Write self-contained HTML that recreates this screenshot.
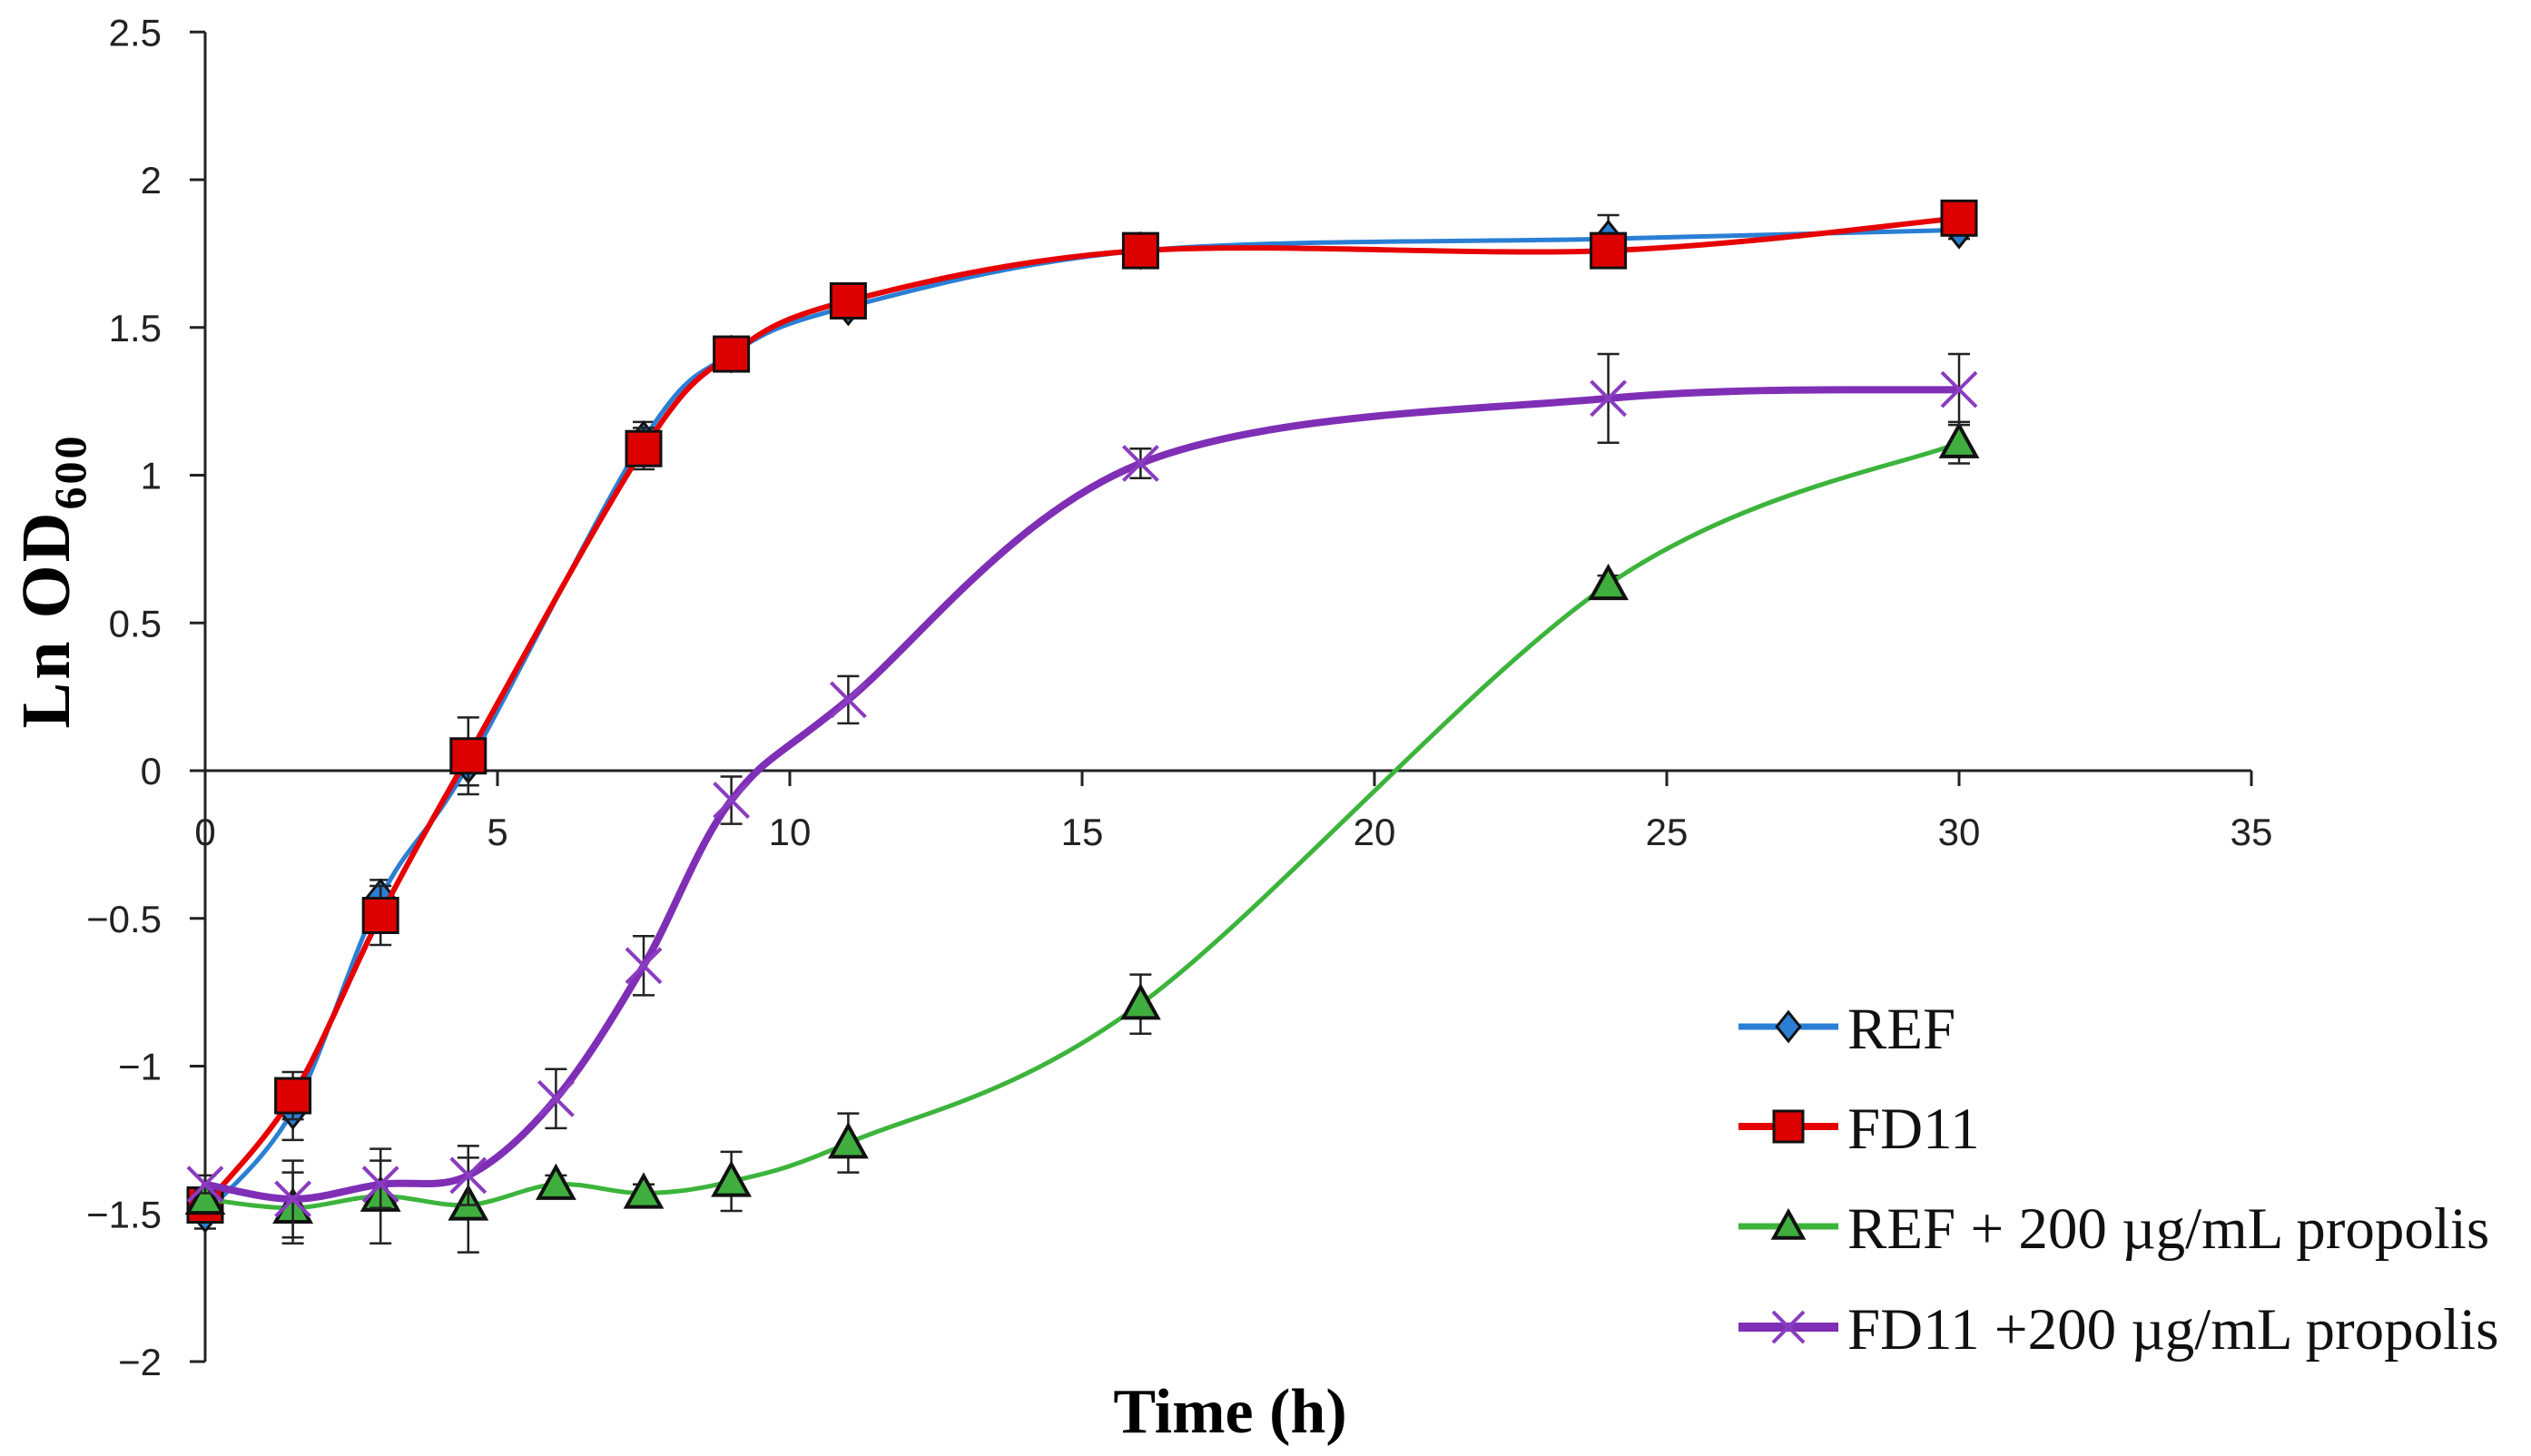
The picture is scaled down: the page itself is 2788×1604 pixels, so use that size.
<!DOCTYPE html>
<html><head><meta charset="utf-8"><style>
html,body{margin:0;padding:0;background:#fff;}
svg{display:block;}
</style></head><body>
<svg id="chart" width="2788" height="1604" viewBox="0 0 2788 1604" xmlns="http://www.w3.org/2000/svg">
<g id="axes"></g>
<g id="series"></g>
<g id="legend"></g>
<text transform="translate(76,640) rotate(-90)" text-anchor="middle" font-family="Liberation Serif, serif" font-weight="bold" font-size="76" letter-spacing="3">Ln OD<tspan font-size="50" dy="18">600</tspan></text>
<text x="1355" y="1578" text-anchor="middle" font-family="Liberation Serif, serif" font-weight="bold" font-size="70">Time (h)</text>
</svg>
<script>
const xTicks=[0,5,10,15,20,25,30,35];
const yTicks=[2.5,2,1.5,1,0.5,0,-0.5,-1,-1.5,-2];
const tMain=[0,1.5,3,4.5,7.5,9,11,16,24,30];
const tLong=[0,1.5,3,4.5,6,7.5,9,11,16,24,30];
const refVals=[-1.5,-1.15,-0.43,0.02,1.12,1.41,1.57,1.76,1.8,1.83];
const refErr=[0.05,0.1,0.06,0.07,0.06,0.03,0.03,0.03,0.08,0.03];
const fdVals=[-1.47,-1.1,-0.49,0.05,1.09,1.41,1.59,1.76,1.76,1.87];
const fdErr=[0.05,0.08,0.1,0.13,0.07,0.03,0.03,0.03,0.03,0.03];
const refPropVals=[-1.45,-1.48,-1.44,-1.47,-1.4,-1.43,-1.39,-1.26,-0.79,0.63,1.11];
const refPropErr=[0.03,0.12,0.16,0.16,0.03,0.03,0.1,0.1,0.1,0.03,0.07];
const fdPropVals=[-1.4,-1.45,-1.4,-1.37,-1.11,-0.66,-0.1,0.24,1.04,1.26,1.29];
const fdPropErr=[0.03,0.13,0.08,0.1,0.1,0.1,0.08,0.08,0.05,0.15,0.12];
const legendLabels=["REF","FD11","REF + 200 µg/mL propolis","FD11 +200 µg/mL propolis"];

const NS="http://www.w3.org/2000/svg";
const X=t=>226+64.4*t;
const Y=v=>849-325.5*v;
function mk(tag,attrs,parent){const e=document.createElementNS(NS,tag);for(const k in attrs)e.setAttribute(k,attrs[k]);parent.appendChild(e);return e;}
const axes=document.getElementById('axes');
const ser=document.getElementById('series');
const leg=document.getElementById('legend');

let a=mk('line',{x1:X(0),y1:Y(2.5),x2:X(0),y2:Y(-2),stroke:'#222','stroke-width':3},axes);


a=mk('line',{x1:X(0),y1:Y(0),x2:X(35),y2:Y(0),stroke:'#222','stroke-width':3},axes);


yTicks.forEach(v=>{
 mk('line',{x1:X(0)-17,y1:Y(v),x2:X(0),y2:Y(v),stroke:'#222','stroke-width':3},axes);
 const t=mk('text',{x:178,y:Y(v)+15,'text-anchor':'end','font-family':'Liberation Sans, sans-serif','font-size':42,fill:'#222'},axes);
 t.textContent=(v<0?'\u2212'+Math.abs(v):String(v));
 
 
});
xTicks.forEach(v=>{
 mk('line',{x1:X(v),y1:Y(0),x2:X(v),y2:Y(0)+17,stroke:'#222','stroke-width':3},axes);
 const t=mk('text',{x:X(v),y:Y(0)+82,'text-anchor':'middle','font-family':'Liberation Sans, sans-serif','font-size':42,fill:'#222'},axes);
 t.textContent=String(v);
 
 
});

function smoothPath(xs,vs){
 const p=xs.map((t,i)=>[X(t),Y(vs[i])]);
 let d='M'+p[0][0]+','+p[0][1];
 for(let i=0;i<p.length-1;i++){
  const p0=p[Math.max(0,i-1)],p1=p[i],p2=p[i+1],p3=p[Math.min(p.length-1,i+2)];
  const k=1/6;
  const c1=[p1[0]+(p2[0]-p0[0])*k,p1[1]+(p2[1]-p0[1])*k];
  const c2=[p2[0]-(p3[0]-p1[0])*k,p2[1]-(p3[1]-p1[1])*k];
  d+=' C'+c1+' '+c2+' '+p2;
 }
 return d;
}
function marker(kind,cx,cy,fill,g,s){
 s=s||19;
 if(kind==='diamond') return mk('path',{d:`M${cx},${cy-s} L${cx+s*0.8},${cy} L${cx},${cy+s} L${cx-s*0.8},${cy} Z`,fill:fill,stroke:'#111','stroke-width':3},g);
 if(kind==='square') return mk('rect',{x:cx-s,y:cy-s,width:2*s,height:2*s,fill:fill,stroke:'#111','stroke-width':3},g);
 if(kind==='triangle') return mk('path',{d:`M${cx},${cy-s} L${cx+s},${cy+s*0.8} L${cx-s},${cy+s*0.8} Z`,fill:fill,stroke:'#111','stroke-width':4},g);
 const gg=mk('g',{},g);
 mk('path',{d:`M${cx-s},${cy-s} L${cx+s},${cy+s} M${cx+s},${cy-s} L${cx-s},${cy+s}`,stroke:fill,'stroke-width':4},gg);
 return gg;
}
const seriesDefs=[
 {name:'ref',xs:tMain,vs:refVals,err:refErr,color:'#2a7fd4',w:5,kind:'diamond',fill:'#2a7fd4'},
 {name:'fd11',xs:tMain,vs:fdVals,err:fdErr,color:'#e60000',w:6,kind:'square',fill:'#dd0000'},
 {name:'ref-propolis',xs:tLong,vs:refPropVals,err:refPropErr,color:'#3cb43c',w:5,kind:'triangle',fill:'#3fae3f'},
 {name:'fd11-propolis',xs:tLong,vs:fdPropVals,err:fdPropErr,color:'#7f2fb5',w:8,kind:'x',fill:'#8a3cc0'}
];
seriesDefs.forEach(s=>{
 const g=mk('g',{},ser);
 
 
 s.xs.forEach((t,i)=>{
  const e=mk('path',{d:`M${X(t)},${Y(s.vs[i]+s.err[i])} L${X(t)},${Y(s.vs[i]-s.err[i])} M${X(t)-12},${Y(s.vs[i]+s.err[i])} h24 M${X(t)-12},${Y(s.vs[i]-s.err[i])} h24`,stroke:'#222','stroke-width':2.5,fill:'none'},g);
  
  
 });
 const line=mk('path',{d:smoothPath(s.xs,s.vs),stroke:s.color,'stroke-width':s.w,fill:'none'},g);
 
 
 s.xs.forEach((t,i)=>{
  const m=marker(s.kind,X(t),Y(s.vs[i]),s.fill,g);
  
  
 });
});
const rows=[1131,1241,1351,1462];
seriesDefs.forEach((s,i)=>{
 const g=mk('g',{},leg);
 
 
 const y=rows[i];
 mk('line',{x1:1915,y1:y,x2:2025,y2:y,stroke:s.color,'stroke-width':s.w+2},g);
 if(s.kind==='square') mk('rect',{x:1954,y:y-17,width:32,height:34,fill:s.fill,stroke:'#111','stroke-width':3},g);
 else marker(s.kind,1970,y,s.fill,g,s.kind==='x'?17:16);
 const t=mk('text',{x:2035,y:y+24,'font-family':'Liberation Serif, serif','font-size':65,fill:'#111'},g);
 t.textContent=legendLabels[i];
});
</script>
</body></html>
